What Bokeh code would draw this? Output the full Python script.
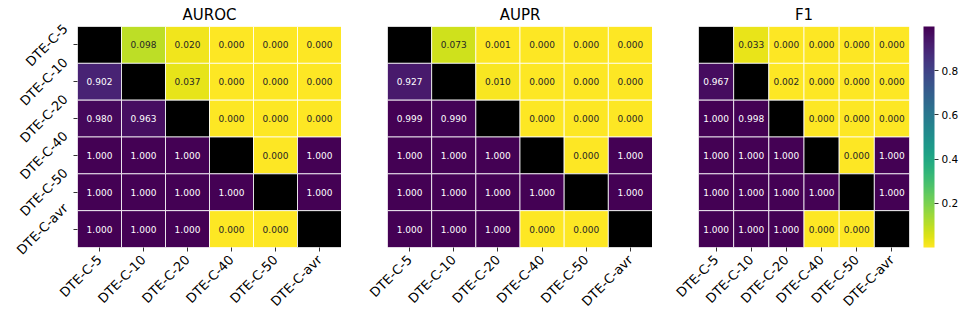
import numpy as np
from bokeh.plotting import figure
from bokeh.models import (ColumnDataSource, FactorRange, Range1d, LinearAxis,
                          LinearColorMapper, ColorBar, FixedTicker, PrintfTickFormatter,
                          CustomLabelingPolicy)
from bokeh.layouts import row
from bokeh.palettes import Viridis256
from bokeh.embed import file_html
from bokeh.resources import INLINE
from bokeh.core.properties import value

NaN = float("nan")

categories = ["DTE-C-5", "DTE-C-10", "DTE-C-20", "DTE-C-40", "DTE-C-50", "DTE-C-avr"]
titles = ["AUROC", "AUPR", "F1"]

# rows = y category, columns = x category
auroc = [
    [NaN, 0.098, 0.020, 0.000, 0.000, 0.000],
    [0.902, NaN, 0.037, 0.000, 0.000, 0.000],
    [0.980, 0.963, NaN, 0.000, 0.000, 0.000],
    [1.000, 1.000, 1.000, NaN, 0.000, 1.000],
    [1.000, 1.000, 1.000, 1.000, NaN, 1.000],
    [1.000, 1.000, 1.000, 0.000, 0.000, NaN],
]
aupr = [
    [NaN, 0.073, 0.001, 0.000, 0.000, 0.000],
    [0.927, NaN, 0.010, 0.000, 0.000, 0.000],
    [0.999, 0.990, NaN, 0.000, 0.000, 0.000],
    [1.000, 1.000, 1.000, NaN, 0.000, 1.000],
    [1.000, 1.000, 1.000, 1.000, NaN, 1.000],
    [1.000, 1.000, 1.000, 0.000, 0.000, NaN],
]
f1 = [
    [NaN, 0.033, 0.000, 0.000, 0.000, 0.000],
    [0.967, NaN, 0.002, 0.000, 0.000, 0.000],
    [1.000, 0.998, NaN, 0.000, 0.000, 0.000],
    [1.000, 1.000, 1.000, NaN, 0.000, 1.000],
    [1.000, 1.000, 1.000, 1.000, NaN, 1.000],
    [1.000, 1.000, 1.000, 0.000, 0.000, NaN],
]
colorbar_ticks = [0.2, 0.4, 0.6, 0.8]

FONT = "DejaVu Sans"
LABEL_PX = 13
TOP = 26
FRAME_H = 221
BOTTOM = 77

# approximate DejaVu Sans advance widths (em) used to centre rotated y labels
_W = {"D": 0.770, "T": 0.611, "E": 0.632, "-": 0.361, "C": 0.698, "a": 0.613,
      "v": 0.592, "r": 0.411}


def text_width(s):
    return sum(_W.get(ch, 0.636) for ch in s) * LABEL_PX


palette = list(reversed(Viridis256))
mapper = LinearColorMapper(palette=palette, low=0.0, high=1.0, nan_color="black")


def style_axis(ax):
    ax.axis_line_color = None
    ax.major_tick_in = 0
    ax.major_tick_out = 4
    ax.minor_tick_out = 0
    ax.minor_tick_in = 0
    ax.major_tick_line_color = "#333333"
    ax.major_label_text_font = FONT
    ax.major_label_text_font_size = f"{LABEL_PX}px"
    ax.major_label_text_color = "#000000"
    ax.major_label_orientation = np.pi / 4
    ax.major_label_standoff = 3


def make_panel(title, matrix, left, frame_w, right, show_y, with_cbar):
    n = len(categories)
    xs, ys, vs, labels, tcolors = [], [], [], [], []
    for i, rname in enumerate(categories):
        for j, cname in enumerate(categories):
            v = matrix[i][j]
            xs.append(cname)
            ys.append(i + 0.5)          # row index -> row centre (top row first)
            vs.append(v)
            labels.append("" if np.isnan(v) else f"{v:.3f}")
            tcolors.append("#ffffff" if (not np.isnan(v) and v > 0.5) else "#262626")
    src = ColumnDataSource(dict(x=xs, y=ys, v=np.array(vs, dtype=float), label=labels, tc=tcolors))

    p = figure(x_range=FactorRange(factors=categories),
               y_range=Range1d(start=n, end=0),
               y_axis_type=None,
               width=left + frame_w + right, height=TOP + FRAME_H + BOTTOM,
               min_border_left=left, min_border_right=right,
               min_border_top=TOP, min_border_bottom=BOTTOM,
               output_backend="svg", toolbar_location=None, title=title)
    p.title.align = "center"
    p.title.text_font = FONT
    p.title.text_font_size = "15px"
    p.title.text_font_style = "normal"
    p.title.text_color = "#000000"
    p.title.standoff = 6
    p.outline_line_color = None
    p.grid.visible = False
    p.background_fill_color = "white"
    p.border_fill_color = "white"

    p.rect(x="x", y="y", width=1, height=1, source=src,
           fill_color={"field": "v", "transform": mapper},
           line_color="white", line_width=1, line_alpha=0.8)
    p.text(x="x", y="y", text="label", source=src, text_color="tc",
           text_align="center", text_baseline="middle",
           text_font=value(FONT), text_font_size="9px")

    style_axis(p.xaxis[0])
    p.xaxis[0].major_label_standoff = 6

    if show_y:
        # tick marks only, at the row centres
        centres = [i + 0.5 for i in range(n)]
        tick_axis = LinearAxis(ticker=FixedTicker(ticks=centres, minor_ticks=[]),
                               major_label_policy=CustomLabelingPolicy(code="return"))
        style_axis(tick_axis)
        tick_axis.major_label_text_font_size = "1px"
        tick_axis.major_label_standoff = 0
        p.add_layout(tick_axis, "left")
        # labels: positions shifted so each rotated label is centred on its row
        cell_px = FRAME_H / n
        pos = [round(max(i + 0.5 - (text_width(c) / (2 * np.sqrt(2))) / cell_px, 0.001), 4)
               for i, c in enumerate(categories)]
        lab_axis = LinearAxis(ticker=FixedTicker(ticks=pos, minor_ticks=[]),
                              major_label_overrides={pos[i]: c for i, c in enumerate(categories)})
        style_axis(lab_axis)
        lab_axis.major_tick_out = 0
        lab_axis.major_label_standoff = 3
        p.add_layout(lab_axis, "left")

    if with_cbar:
        cb = ColorBar(color_mapper=mapper, ticker=FixedTicker(ticks=colorbar_ticks),
                      formatter=PrintfTickFormatter(format="%.1f"),
                      width=11, height=FRAME_H, padding=0, margin=0,
                      location=(14, 0), major_tick_in=0, major_tick_out=4,
                      major_tick_line_color="#333333",
                      major_label_text_font=FONT, major_label_text_font_size="10.5px",
                      major_label_text_color="#000000",
                      label_standoff=3, bar_line_color=None, border_line_color=None,
                      background_fill_color=None)
        p.add_layout(cb, "right")
    return p


p1 = make_panel(titles[0], auroc, 77, 264, 0, True, False)
p2 = make_panel(titles[1], aupr, 46, 265, 0, False, False)
p3 = make_panel(titles[2], f1, 46, 211, 55, False, True)

layout = row(p1, p2, p3)
open("out.html", "w").write(file_html(layout, INLINE))
